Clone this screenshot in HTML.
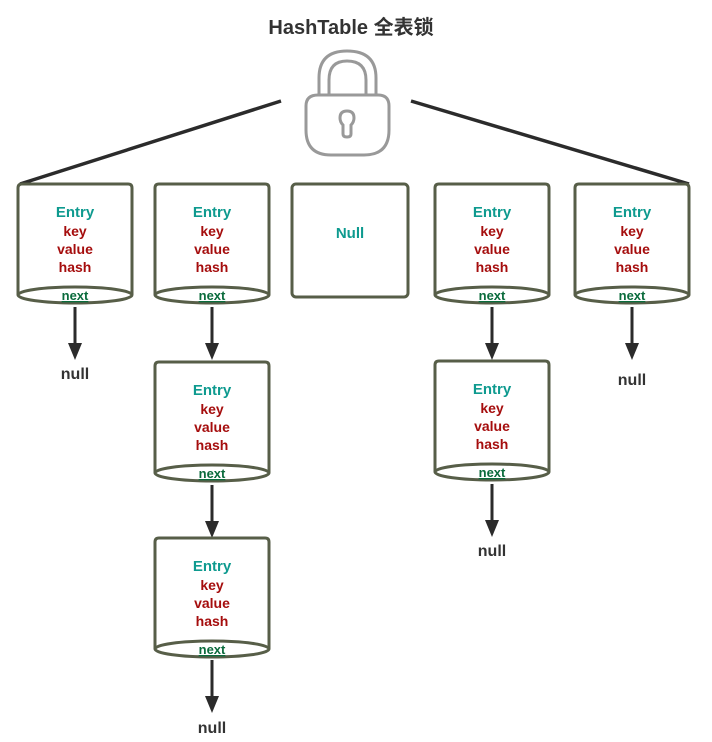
<!DOCTYPE html>
<html><head><meta charset="utf-8"><style>
html,body{margin:0;padding:0;background:#fff;}
svg{display:block;}
.e{fill:#0e9a8f;font:bold 15px "Liberation Sans",sans-serif;text-anchor:middle;}
.r{fill:#a50d0d;font:bold 14px "Liberation Sans",sans-serif;text-anchor:middle;}
.n{fill:#0a6b3c;font:bold 13px "Liberation Sans",sans-serif;text-anchor:middle;text-decoration:underline;}
.nl{fill:#333;font:bold 16px "Liberation Sans",sans-serif;text-anchor:middle;}
.c{fill:none;stroke:#575e48;stroke-width:3;}
.a{stroke:#2b2b2b;stroke-width:3;}
</style></head><body>
<svg width="712" height="742" viewBox="0 0 712 742" xmlns="http://www.w3.org/2000/svg">
<defs>
<g id="cyl">
<path class="c" d="M0,111 V4 Q0,0 4,0 H110 Q114,0 114,4 V111"/>
<ellipse class="c" cx="57" cy="111" rx="57" ry="8" fill="#fff"/>
<text class="e" x="57" y="33">Entry</text>
<text class="r" x="57" y="52">key</text>
<text class="r" x="57" y="70">value</text>
<text class="r" x="57" y="88">hash</text>
<text class="n" x="57" y="116">next</text>
</g>
<g id="arr">
<line class="a" x1="0" y1="0" x2="0" y2="38"/>
<polygon points="-7,36 7,36 0,53" fill="#2b2b2b"/>
</g>
</defs>
<text x="351" y="34" text-anchor="middle" style="fill:#333;font:bold 20px 'Liberation Sans','Noto Sans CJK SC',sans-serif;">HashTable 全表锁</text>
<!-- lock -->
<g fill="none" stroke="#999" stroke-width="3">
<path d="M319,95 V78 Q319,51 347,51 Q376,51 376,78 V95"/>
<path d="M329,95 V80 Q329,61 347,61 Q366,61 366,80 V95"/>
<path d="M318,95 H378 Q389,95 389,106 V130 Q389,155 364,155 H331 Q306,155 306,130 V106 Q306,95 318,95 Z"/>
<path d="M343,125 Q340,122 340,118 Q340,111 347,111 Q354,111 354,118 Q354,122 351,125 V134 Q351,137 347,137 Q343,137 343,134 Z"/>
</g>
<line x1="281" y1="101" x2="20" y2="184" stroke="#2b2b2b" stroke-width="3.5"/>
<line x1="411" y1="101" x2="689" y2="184" stroke="#2b2b2b" stroke-width="3.5"/>
<!-- row 1 -->
<use href="#cyl" x="18" y="184"/>
<use href="#cyl" x="155" y="184"/>
<rect class="c" x="292" y="184" width="116" height="113" rx="4"/>
<text class="e" x="350" y="238">Null</text>
<use href="#cyl" x="435" y="184"/>
<use href="#cyl" x="575" y="184"/>
<!-- col1 -->
<use href="#arr" x="75" y="307"/>
<text class="nl" x="75" y="379">null</text>
<!-- col2 -->
<use href="#arr" x="212" y="307"/>
<use href="#cyl" x="155" y="362"/>
<use href="#arr" x="212" y="485"/>
<use href="#cyl" x="155" y="538"/>
<use href="#arr" x="212" y="660"/>
<text class="nl" x="212" y="733">null</text>
<!-- col4 -->
<use href="#arr" x="492" y="307"/>
<use href="#cyl" x="435" y="361"/>
<use href="#arr" x="492" y="484"/>
<text class="nl" x="492" y="556">null</text>
<!-- col5 -->
<use href="#arr" x="632" y="307"/>
<text class="nl" x="632" y="385">null</text>
</svg>
</body></html>
